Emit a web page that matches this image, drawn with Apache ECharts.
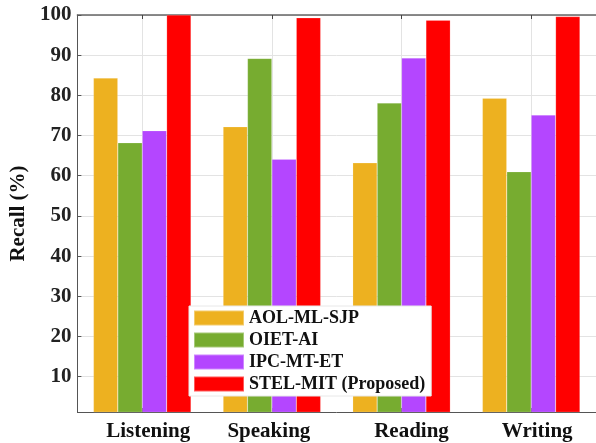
<!DOCTYPE html>
<html>
<head>
<meta charset="utf-8">
<script src="https://cdn.jsdelivr.net/npm/echarts@6/dist/echarts.min.js"></script>
<style>
  html, body { margin: 0; padding: 0; background: #fff; }
  #chart { width: 596px; height: 443px; }
</style>
</head>
<body>
<div id="chart"></div>
<script type="text/javascript">
// 数据
var categories = ['Listening', 'Speaking', 'Reading', 'Writing'];
var seriesNames = ['AOL-ML-SJP', 'OIET-AI', 'IPC-MT-ET', 'STEL-MIT (Proposed)'];
var aolData = [84.3, 72.2, 63.2, 79.3];
var oietData = [68.2, 89.2, 78.1, 61.0];
var ipcData = [71.2, 64.1, 89.3, 75.1];
var stelData = [100, 99.3, 98.7, 99.6];
var yTicks = [10, 20, 30, 40, 50, 60, 70, 80, 90, 100];
var centerTicks = [0.5, 1.5, 2.5, 3.5];

var colors = ['#EDB120', '#77AC30', '#B446FF', '#FF0000'];
var fontFam = '"Liberation Serif", "Times New Roman", serif';

var chart = echarts.init(document.getElementById('chart'));

function makeBar(name, data, color) {
    return {
        name: name,
        type: 'bar',
        data: data,
        barWidth: 24.4,
        barGap: '0%',
        xAxisIndex: 0,
        itemStyle: { color: color, borderColor: 'rgba(255,255,255,0.35)', borderWidth: 0.5 }
    };
}

// 标签略微偏移, 与原图一致
var labelStyle = { fontFamily: fontFam, fontWeight: 'bold', fontSize: 21, color: '#111' };
var xRich = {
    c0: Object.assign({ padding: [0, 0, 0, 12] }, labelStyle),
    c1: Object.assign({ padding: [0, 6, 0, 0] }, labelStyle),
    c2: Object.assign({ padding: [0, 0, 0, 20] }, labelStyle),
    c3: Object.assign({ padding: [0, 0, 0, 12] }, labelStyle)
};

var option = {
    animation: false,
    grid: { left: 73, right: -11, top: 15, bottom: 31 },
    legend: {
        orient: 'vertical',
        left: 189,
        top: 306,
        data: seriesNames,
        itemWidth: 50,
        itemHeight: 15,
        itemGap: 4,
        padding: [3, 6, 3, 4],
        backgroundColor: '#fff',
        borderColor: '#e8e8e8',
        borderWidth: 1,
        borderRadius: 0,
        icon: 'rect',
        textStyle: { fontFamily: fontFam, fontWeight: 'bold', fontSize: 18, lineHeight: 15, color: '#111' }
    },
    xAxis: [
        {
            type: 'category',
            data: categories,
            position: 'bottom',
            axisLine: { lineStyle: { color: '#555', width: 1 } },
            axisTick: { show: true, inside: true, alignWithLabel: true, length: 4, lineStyle: { color: '#444' } },
            splitLine: { show: false },
            axisLabel: {
                margin: 9,
                formatter: function (value, idx) { return '{c' + idx + '|' + value + '}'; },
                rich: xRich
            }
        },
        {
            type: 'value',
            min: 0,
            max: 4,
            position: 'top',
            axisLine: { show: true, lineStyle: { color: '#666', width: 1.5 } },
            axisTick: { show: true, inside: true, length: 4, customValues: centerTicks, lineStyle: { color: '#444' } },
            axisLabel: { show: false },
            splitLine: { show: true, lineStyle: { color: '#e3e3e3', width: 1 } }
        }
    ],
    yAxis: {
        type: 'value',
        min: 1.2,
        max: 100,
        name: 'Recall (%)',
        nameLocation: 'middle',
        nameGap: 43,
        nameTextStyle: { fontFamily: fontFam, fontWeight: 'bold', fontSize: 21, color: '#111' },
        axisLine: { show: true, lineStyle: { color: '#555', width: 1 } },
        axisTick: { show: true, inside: true, length: 4, customValues: yTicks, lineStyle: { color: '#555' } },
        axisLabel: { customValues: yTicks, fontFamily: fontFam, fontWeight: 'bold', fontSize: 21, color: '#222', margin: 6 },
        splitLine: { show: true, lineStyle: { color: '#e3e3e3', width: 1 } }
    },
    series: [
        makeBar(seriesNames[0], aolData, colors[0]),
        makeBar(seriesNames[1], oietData, colors[1]),
        makeBar(seriesNames[2], ipcData, colors[2]),
        makeBar(seriesNames[3], stelData, colors[3])
    ]
};

chart.setOption(option);
</script>
</body>
</html>
